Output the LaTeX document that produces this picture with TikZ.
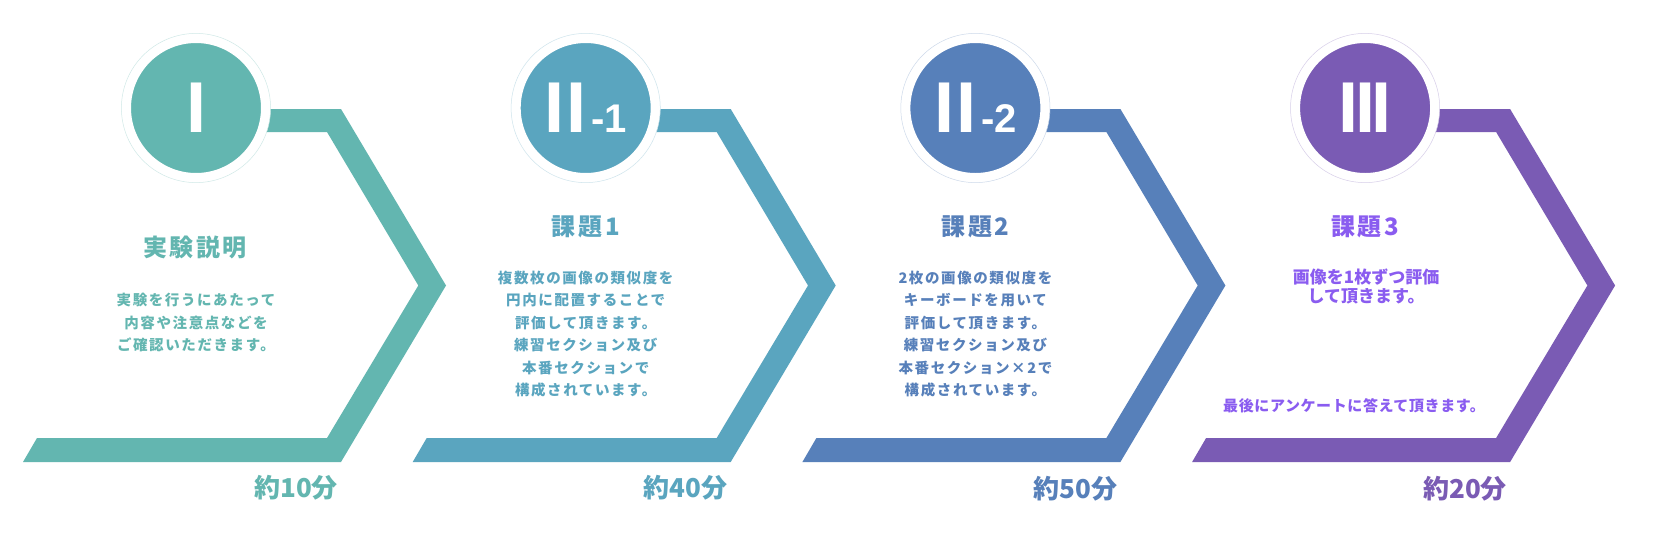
\documentclass[tikz,border=0pt]{standalone}
\usepackage{fontspec}
\newfontfamily\jpfont{Noto Sans CJK JP}
\newfontfamily\jpwide{Noto Sans CJK JP}[LetterSpace=11]
\newfontfamily\jpnarrow{Noto Sans CJK JP}[LetterSpace=4]
\newfontfamily\numfont{Liberation Sans}
\definecolor{stepA}{HTML}{63B6B0}
\definecolor{stepB}{HTML}{5AA5BF}
\definecolor{stepC}{HTML}{5780BA}
\definecolor{stepD}{HTML}{7A5BB4}
\definecolor{stepDtext}{HTML}{8A5CF0}

\begin{document}
\begin{tikzpicture}[x=1pt, y=-1pt,
  numcirc/.style={circle, draw=white, line width=9.5pt, minimum size=139.5pt, inner sep=0pt,
    text=white, font=\numfont\bfseries\fontsize{72}{72}\selectfont},
  headtxt/.style={font=\jpwide\bfseries\fontsize{24}{24}\selectfont},
  bodytxt/.style={align=center, font=\jpwide\bfseries\fontsize{14.5}{22.5}\selectfont},
  timetxt/.style={font=\jpfont\bfseries\fontsize{26}{26}\selectfont}]
  \useasboundingbox (0,0) rectangle (1658,539);
  \fill[white] (0,0) rectangle (1658,539);

  % Step I
  \fill[stepA] (196,109) -- (341,109) -- (446,285.5) -- (341,462) -- (23,462) -- (37,438)
    -- (327,438) -- (418.3,285.5) -- (327,132) -- (196,132) -- cycle;
  \node[numcirc, fill=stepA] (c1) at (196,108) {I};
  \draw[stepA!30, line width=0.5pt] (c1.center) circle (74.6);
  \node[headtxt, text=stepA] (t1) at (195,247.5) {実験説明};
  \node[bodytxt, text=stepA] (b1) at (196,322.5) {実験を行うにあたって\\内容や注意点などを\\ご確認いただきます。};
  \node[timetxt, text=stepA] (m1) at (296,488) {約10分};

  % Step II-1
  \begin{scope}[xshift=389.7]
  \fill[stepB] (196,109) -- (341,109) -- (446,285.5) -- (341,462) -- (23,462) -- (37,438)
    -- (327,438) -- (418.3,285.5) -- (327,132) -- (196,132) -- cycle;
  \node[numcirc, fill=stepB] (c2) at (196,108) {I\kern2pt I\kern5pt{\fontsize{40}{40}\selectfont -1}};
  \draw[stepB!30, line width=0.5pt] (c2.center) circle (74.6);
  \node[headtxt, text=stepB] (t2) at (196,226.5) {課題1};
  \node[bodytxt, text=stepB] (b2) at (196,334) {複数枚の画像の類似度を\\円内に配置することで\\評価して頂きます。\\練習セクション及び\\本番セクションで\\構成されています。};
  \node[timetxt, text=stepB] (m2) at (296,488) {約40分};
  \end{scope}

  % Step II-2
  \begin{scope}[xshift=779.4]
  \fill[stepC] (196,109) -- (341,109) -- (446,285.5) -- (341,462) -- (23,462) -- (37,438)
    -- (327,438) -- (418.3,285.5) -- (327,132) -- (196,132) -- cycle;
  \node[numcirc, fill=stepC] (c3) at (196,108) {I\kern2pt I\kern5pt{\fontsize{40}{40}\selectfont -2}};
  \draw[stepC!30, line width=0.5pt] (c3.center) circle (74.6);
  \node[headtxt, text=stepC] (t3) at (196,226.5) {課題2};
  \node[bodytxt, text=stepC] (b3) at (196,334) {2枚の画像の類似度を\\キーボードを用いて\\評価して頂きます。\\練習セクション及び\\本番セクション×2で\\構成されています。};
  \node[timetxt, text=stepC] (m3) at (296,489) {約50分};
  \end{scope}

  % Step III
  \begin{scope}[xshift=1169.1]
  \fill[stepD] (196,109) -- (341,109) -- (446,285.5) -- (341,462) -- (23,462) -- (37,438)
    -- (327,438) -- (418.3,285.5) -- (327,132) -- (196,132) -- cycle;
  \node[numcirc, fill=stepD] (c4) at (196,108) {I\kern-3.5pt I\kern-3.5pt I};
  \draw[stepD!30, line width=0.5pt] (c4.center) circle (74.6);
  \node[headtxt, text=stepDtext] (t4) at (196,227) {課題3};
  \node[align=center, text=stepDtext, font=\jpfont\bfseries\fontsize{17}{19}\selectfont] (b4) at (197,286.5) {画像を1枚ずつ評価\\して頂きます。};
  \node[text=stepDtext, font=\jpnarrow\bfseries\fontsize{15}{15}\selectfont] (n4) at (185,406) {最後にアンケートに答えて頂きます。};
  \node[timetxt, text=stepD] (m4) at (296,489) {約20分};
  \end{scope}
\end{tikzpicture}
\end{document}
